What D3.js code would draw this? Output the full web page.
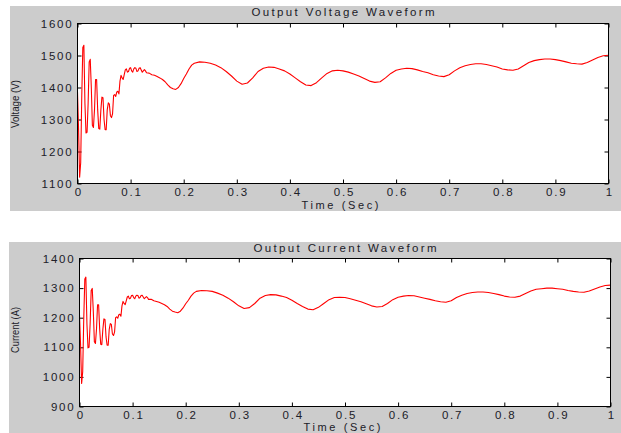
<!DOCTYPE html>
<html><head><meta charset="utf-8">
<script src="https://cdn.jsdelivr.net/npm/d3@7"></script>
<style>
html,body{margin:0;padding:0;background:#fff;}
svg{display:block;}
text{font-family:"Liberation Sans",Arial,sans-serif;fill:#202028;}
</style></head>
<body>
<svg id="chart" width="621" height="433"></svg>
<script>
// ---- data ----
const time = [
0.000,0.002,0.004,0.006,0.008,0.010,0.012,0.014,0.016,0.018,
0.020,0.022,0.024,0.026,0.028,0.030,0.032,0.034,0.036,0.038,
0.040,0.042,0.044,0.046,0.048,0.050,0.052,0.054,0.056,0.058,
0.060,0.062,0.064,0.066,0.068,0.070,0.072,0.074,0.076,0.078,
0.080,0.082,0.084,0.086,0.088,0.090,0.092,0.094,0.096,0.098,
0.100,0.102,0.104,0.106,0.108,0.110,0.112,0.114,0.116,0.118,
0.120,0.122,0.124,0.126,0.128,0.130,0.135,0.140,0.145,0.150,
0.155,0.160,0.165,0.170,0.175,0.180,0.185,0.190,0.195,0.200,
0.205,0.210,0.215,0.220,0.230,0.240,0.250,0.260,0.270,0.280,
0.290,0.300,0.310,0.320,0.330,0.340,0.350,0.360,0.370,0.380,
0.390,0.400,0.410,0.420,0.430,0.440,0.450,0.460,0.470,0.480,
0.490,0.500,0.510,0.520,0.530,0.540,0.550,0.560,0.570,0.580,
0.590,0.600,0.610,0.620,0.630,0.640,0.650,0.660,0.670,0.680,
0.690,0.700,0.710,0.720,0.730,0.740,0.750,0.760,0.770,0.780,
0.790,0.800,0.810,0.820,0.830,0.840,0.850,0.860,0.870,0.880,
0.890,0.900,0.910,0.920,0.930,0.940,0.950,0.960,0.970,0.980,
0.990,1.000];

const voltage = [
1386,1270,1120,1165,1370,1525,1532,1350,1258,1260,
1350,1480,1488,1400,1282,1275,1330,1425,1425,1330,
1272,1270,1330,1370,1368,1300,1268,1268,1330,1352,
1348,1312,1306,1318,1375,1378,1372,1386,1388,1380,
1420,1438,1430,1425,1440,1455,1458,1448,1450,1460,
1462,1452,1448,1458,1462,1460,1450,1452,1460,1462,
1455,1448,1452,1456,1452,1446,1445,1440,1438,1434,
1430,1425,1418,1408,1400,1396,1394,1400,1412,1428,
1442,1458,1470,1476,1480,1479,1476,1470,1462,1450,
1436,1420,1410,1414,1430,1450,1460,1464,1463,1458,
1452,1442,1430,1418,1408,1406,1415,1430,1444,1452,
1454,1452,1448,1442,1436,1428,1420,1416,1418,1430,
1444,1454,1458,1460,1459,1455,1450,1446,1440,1436,
1434,1440,1452,1462,1468,1472,1474,1474,1472,1468,
1464,1458,1455,1454,1458,1468,1478,1484,1487,1489,
1489,1487,1484,1480,1476,1474,1473,1478,1486,1494,
1499,1501];

const current = [
1210,1109,978,1017,1196,1331,1337,1179,1098,1100,
1179,1292,1299,1222,1119,1113,1161,1244,1244,1161,
1110,1109,1161,1196,1194,1135,1107,1107,1161,1180,
1177,1145,1140,1151,1200,1203,1198,1210,1212,1205,
1240,1255,1248,1244,1257,1270,1273,1264,1266,1275,
1276,1268,1264,1273,1276,1275,1266,1268,1275,1276,
1270,1264,1268,1271,1268,1262,1262,1257,1255,1252,
1248,1244,1238,1229,1222,1219,1217,1222,1233,1247,
1259,1273,1283,1289,1292,1291,1289,1283,1276,1266,
1254,1240,1231,1234,1248,1266,1275,1278,1277,1273,
1268,1259,1248,1238,1229,1227,1235,1248,1261,1268,
1269,1268,1264,1259,1254,1247,1240,1236,1238,1248,
1261,1269,1273,1275,1274,1270,1266,1262,1257,1254,
1252,1257,1268,1276,1282,1285,1287,1287,1285,1282,
1278,1273,1270,1269,1273,1282,1290,1296,1298,1300,
1300,1298,1296,1292,1289,1287,1286,1290,1297,1304,
1309,1310];

const xTicks = [0,0.1,0.2,0.3,0.4,0.5,0.6,0.7,0.8,0.9,1];
const xTickLabels = ["0","0.1","0.2","0.3","0.4","0.5","0.6","0.7","0.8","0.9","1"];
const vTicks = [1100,1200,1300,1400,1500,1600];
const iTicks = [900,1000,1100,1200,1300,1400];
const titles = ["Output Voltage Waveform","Output Current Waveform"];
const yLabels = ["Voltage (V)","Current (A)"];
const xLabel = "Time (Sec)";

// ---- drawing ----
const svg = d3.select("#chart");

const panels = [
  {bg:[10,6,611,205], left:77.5, right:608.5, top:23.5, bottom:183.5,
   vals:voltage, dom:[1100,1600], ticks:vTicks, title:titles[0], ylab:yLabels[0],
   titleY:16, xlabY:208.5, ylabY:104, ylabLen:48},
  {bg:[9,242,612,191], left:79.5, right:610.5, top:258.5, bottom:406.5,
   vals:current, dom:[900,1400], ticks:iTicks, title:titles[1], ylab:yLabels[1],
   titleY:252, xlabY:430.5, ylabY:330, ylabLen:46}
];

panels.forEach(p => {
  const g = svg.append("g");
  g.append("rect").attr("x",p.bg[0]).attr("y",p.bg[1]).attr("width",p.bg[2]).attr("height",p.bg[3])
    .attr("fill","#cccccc");
  g.append("rect").attr("x",p.left).attr("y",p.top).attr("width",p.right-p.left).attr("height",p.bottom-p.top)
    .attr("fill","#ffffff");

  const x = d3.scaleLinear().domain([0,1]).range([p.left,p.right]);
  const y = d3.scaleLinear().domain(p.dom).range([p.bottom,p.top]);

  const styleAxis = sel => {
    sel.select(".domain").remove();
    sel.selectAll(".tick line").attr("stroke","#000").attr("stroke-width",1);
    sel.selectAll(".tick text").attr("font-size",11.5).attr("letter-spacing","1.8px")
      .attr("fill","#202028").attr("font-family",'"Liberation Sans",Arial,sans-serif');
  };

  g.append("g").attr("transform",`translate(0,${p.bottom})`)
    .call(d3.axisBottom(x).tickValues(xTicks).tickFormat((d,i)=>xTickLabels[i]).tickSizeInner(-4).tickSizeOuter(0).tickPadding(4))
    .call(styleAxis)
    .call(s=>s.selectAll(".tick text").attr("dx","0.9px"));
  g.append("g").attr("transform",`translate(0,${p.top})`)
    .call(d3.axisTop(x).tickValues(xTicks).tickFormat("").tickSizeInner(-4).tickSizeOuter(0))
    .call(styleAxis);
  g.append("g").attr("transform",`translate(${p.left},0)`)
    .call(d3.axisLeft(y).tickValues(p.ticks).tickFormat(d3.format("d")).tickSizeInner(-4).tickSizeOuter(0).tickPadding(4))
    .call(styleAxis);
  g.append("g").attr("transform",`translate(${p.right},0)`)
    .call(d3.axisRight(y).tickValues(p.ticks).tickFormat("").tickSizeInner(-4).tickSizeOuter(0))
    .call(styleAxis);

  const clipId = "clip"+p.top;
  g.append("clipPath").attr("id",clipId).append("rect")
    .attr("x",p.left).attr("y",p.top-2).attr("width",p.right-p.left).attr("height",p.bottom-p.top+4);

  const line = d3.line().x((d,i)=>x(time[i])).y(d=>y(d)).curve(d3.curveLinear);
  g.append("path").datum(p.vals).attr("d",line).attr("fill","none")
    .attr("stroke","#ff0000").attr("stroke-width",1.1).attr("stroke-linejoin","round")
    .attr("clip-path",`url(#${clipId})`);

  g.append("rect").attr("x",p.left).attr("y",p.top).attr("width",p.right-p.left).attr("height",p.bottom-p.top)
    .attr("fill","none").attr("stroke","#000").attr("stroke-width",1);

  g.append("text").attr("x",(p.left+p.right)/2).attr("y",p.titleY).attr("text-anchor","middle")
    .attr("font-size",11.5).attr("textLength",183).attr("lengthAdjust","spacing").text(p.title);
  g.append("text").attr("x",(p.left+p.right)/2 - 3).attr("y",p.xlabY).attr("text-anchor","middle")
    .attr("font-size",11).attr("textLength",77).attr("lengthAdjust","spacing").text(xLabel);
  g.append("text").attr("transform",`translate(19,${p.ylabY}) rotate(-90)`).attr("text-anchor","middle")
    .attr("font-size",10).attr("textLength",p.ylabLen).attr("lengthAdjust","spacingAndGlyphs").text(p.ylab);
});
</script>
</body></html>
